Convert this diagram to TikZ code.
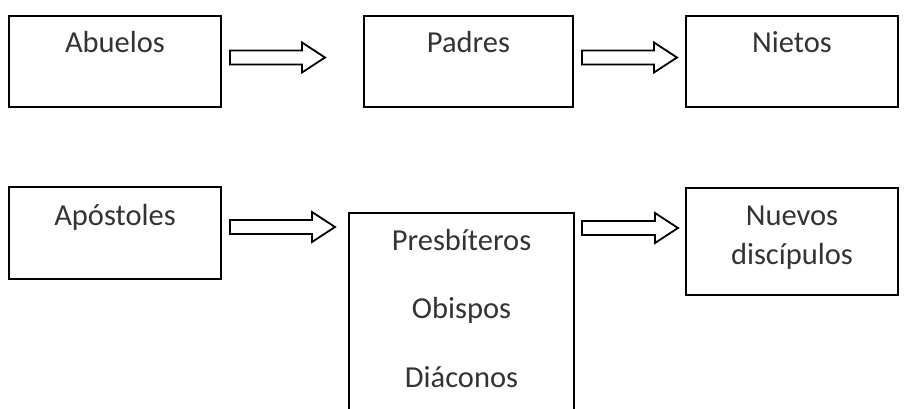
\documentclass[tikz,border=0pt]{standalone}
\usepackage{fontspec}
\setmainfont{Carlito}
\usetikzlibrary{calc}
\tikzset{%
  every box/.style={
    rectangle,
    draw,
    line width=2pt,
    anchor=north west,
    inner sep=0pt
  },
  box label/.style={
    anchor=base,
    text=black!80,
    font=\fontsize{30.5}{36}\selectfont
  },
  fat arrow/.style={
    draw,
    line width=1.8pt,
    fill=white,
    to path={let \p1=(\tikztostart), \p2=(\tikztotarget) in
      (\x1,\y1+7pt) -- (\x2-23pt,\y1+7pt) -- (\x2-23pt,\y1+15pt) -- (\x2,\y1)
      -- (\x2-23pt,\y1-15pt) -- (\x2-23pt,\y1-7pt) -- (\x1,\y1-7pt) -- cycle}
  }
 }

\begin{document}
\begin{tikzpicture}[x=1pt, y=-1pt]

\useasboundingbox (0,0) rectangle (905,409);
\clip (0,0) rectangle (905,409);

\foreach \n/\x/\y/\w/\h in {abuelos/8/15/212/91, padres/363/15/209/91, nietos/685/15/212/91,
    apostoles/8/186/212/92, clero/348/212/225/230, nuevos/685/187/212/107}
  \node [every box, minimum width=\w pt, minimum height=\h pt] (\n) at (\x,\y) {};

\foreach \n/\y/\t in {abuelos/53/Abuelos, padres/53/Padres, nietos/53/Nietos,
    apostoles/225/Apóstoles, nuevos/225/Nuevos, nuevos/264/discípulos,
    clero/250/Presbíteros, clero/318/Obispos, clero/387/Diáconos}
  \node [box label] (\n-\y) at (\n.north |- 0,\y) {\t};

\foreach \i/\a/\b/\y in {1/230/325/57.5, 2/582/677/57.5, 3/230/335/227, 4/582/678/228} {
  \coordinate (tail-\i) at (\a,\y);
  \coordinate (tip-\i) at (\b,\y);
  \draw [fat arrow] (tail-\i) to (tip-\i);
}

\end{tikzpicture}
\end{document}
